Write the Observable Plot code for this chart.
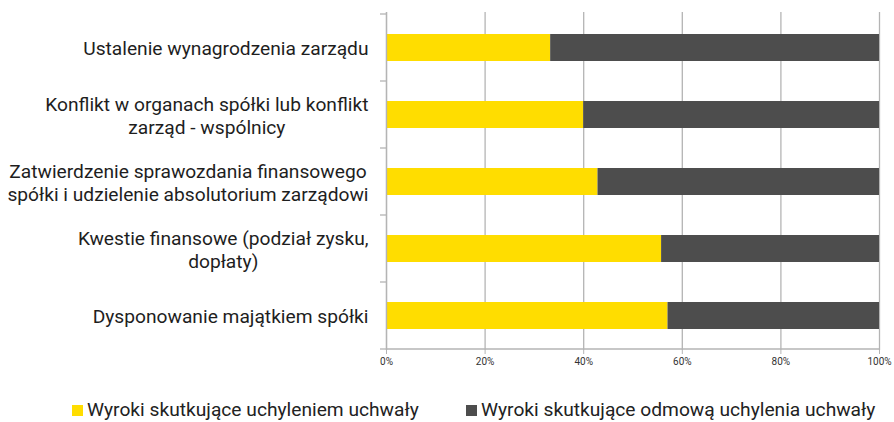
<!DOCTYPE html>
<html>
<head>
<meta charset="utf-8">
<script src="https://cdn.jsdelivr.net/npm/d3@7"></script>
<script src="https://cdn.jsdelivr.net/npm/@observablehq/plot@0.6"></script>
<style>
  body { margin: 0; background: #fff; font-family: Roboto, "Noto Sans", sans-serif; overflow: hidden; }
  #chart svg { display: block; }
  #legend { position: relative; height: 42px; font-family: Roboto, sans-serif; font-size: 19.2px; color: #222; }
  .item { position: absolute; top: 18px; display: flex; align-items: center; white-space: nowrap; }
  .sw { width: 11px; height: 11px; margin-right: 4px; position: relative; top: 1px; }
</style>
</head>
<body>
<div id="chart"></div>
<div id="legend"></div>
<script>
const categories = [
  "Ustalenie wynagrodzenia zarządu",
  "Konflikt w organach spółki lub konflikt\nzarząd - wspólnicy",
  "Zatwierdzenie sprawozdania finansowego\nspółki i udzielenie absolutorium zarządowi",
  "Kwestie finansowe (podział zysku,\ndopłaty)",
  "Dysponowanie majątkiem spółki"
];
const uchylenie = [33.3, 40.0, 42.9, 55.8, 57.1];
const odmowa = [66.7, 60.0, 57.1, 44.2, 42.9];
const seriesNames = ["Wyroki skutkujące uchyleniem uchwały", "Wyroki skutkujące odmową uchylenia uchwały"];
const seriesColors = ["#FFDD00", "#4D4D4D"];
const xTicks = [0, 20, 40, 60, 80, 100];

const rows = [];
categories.forEach((c, i) => {
  rows.push({cat: c, series: seriesNames[0], value: uchylenie[i]});
  rows.push({cat: c, series: seriesNames[1], value: odmowa[i]});
});

const gridColor = "#b4b4b4";

const chart = Plot.plot({
  width: 894,
  height: 380,
  marginLeft: 386,
  marginRight: 15,
  marginTop: 12,
  marginBottom: 30,
  style: {fontFamily: "Roboto, sans-serif", background: "#fff"},
  x: {domain: [0, 100], ticks: xTicks, label: null},
  y: {domain: categories, paddingInner: 0.6, paddingOuter: 0.3, label: null},
  color: {domain: seriesNames, range: seriesColors},
  marks: [
    Plot.gridX(xTicks, {stroke: gridColor, strokeOpacity: 1, strokeWidth: 1.3}),
    Plot.barX(rows, Plot.stackX({y: "cat", x: "value", fill: "series", order: seriesNames})),
    Plot.ruleX([0], {stroke: gridColor, strokeWidth: 1.3}),
    Plot.axisX({ticks: xTicks, tickFormat: d => d + "%", tickSize: 4, tickPadding: 3, fontSize: 10, color: "#333", stroke: gridColor, label: null}),
    Plot.axisY({tickSize: 0, tickPadding: 18, fontSize: 19.2, fill: "#1e1e1e", label: null, lineHeight: 1.18})
  ]
});

document.getElementById("chart").appendChild(chart);

// center multi-line category labels relative to each other (right-aligned block)
const svg = d3.select(chart);
svg.selectAll("g[aria-label='y-axis tick label'] text").each(function() {
  const tspans = Array.from(this.querySelectorAll("tspan"));
  if (tspans.length < 2) return;
  const widths = tspans.map(t => t.getComputedTextLength());
  const W = Math.max(...widths);
  tspans.forEach((t, i) => t.setAttribute("dx", -(W - widths[i]) / 2));
});

// bottom axis line and category boundary ticks, from the plot's own scales
const xs = chart.scale("x");
const ys = chart.scale("y");
const x0 = xs.apply(0), x1 = xs.apply(100);
const gap = (ys.step - ys.bandwidth) / 2;
const bounds = categories.map(c => ys.apply(c) - gap);
bounds.push(ys.apply(categories[categories.length - 1]) + ys.bandwidth + gap);
const g = svg.append("g").attr("stroke", gridColor).attr("stroke-width", 1.3);
g.append("line").attr("x1", x0).attr("x2", x1).attr("y1", bounds[bounds.length - 1]).attr("y2", bounds[bounds.length - 1]);
bounds.forEach(b => g.append("line").attr("x1", x0 - 6).attr("x2", x0).attr("y1", b).attr("y2", b));

// legend
const legend = document.getElementById("legend");
const lefts = [72, 466];
seriesNames.forEach((s, i) => {
  const item = document.createElement("div");
  item.className = "item";
  item.style.left = lefts[i] + "px";
  item.innerHTML = `<span class="sw" style="background:${seriesColors[i]}"></span><span>${s}</span>`;
  legend.appendChild(item);
});
</script>
</body>
</html>
